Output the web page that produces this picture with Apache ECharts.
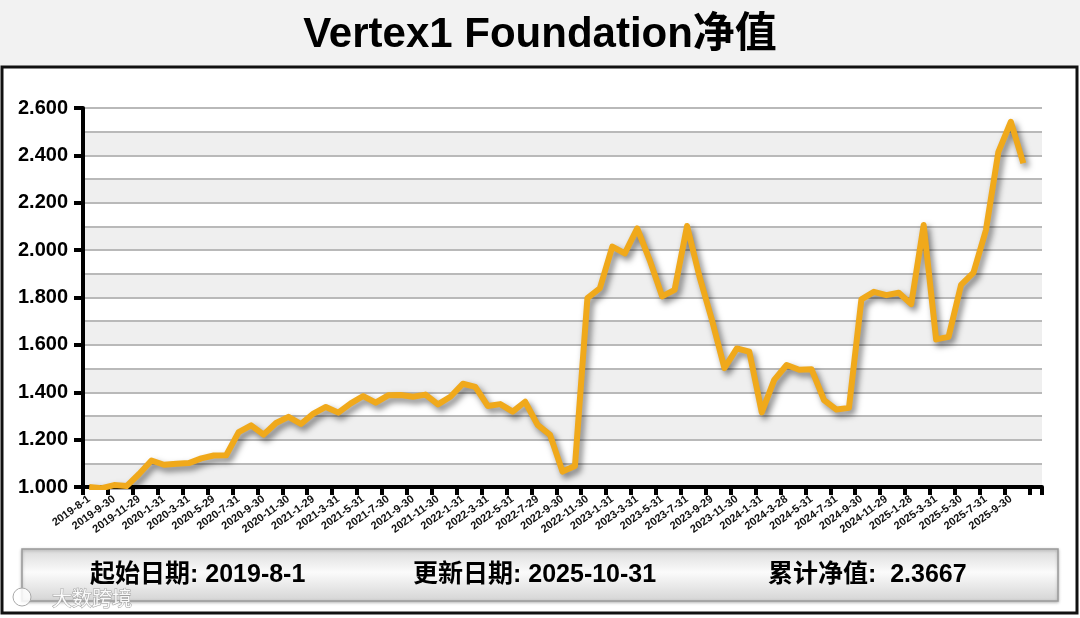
<!DOCTYPE html>
<html>
<head>
<meta charset="utf-8">
<script src="https://cdn.jsdelivr.net/npm/echarts@6/dist/echarts.min.js"></script>
<style>
html,body{margin:0;padding:0;background:#fff;}
#chart{width:1080px;height:618px;}
</style>
</head>
<body>
<div id="chart"></div>
<script>
var titleText = 'Vertex1 Foundation净值';
var dates = [
'2019-8-1','2019-8-30','2019-9-30','2019-10-31','2019-11-29','2019-12-31',
'2020-1-31','2020-2-28','2020-3-31','2020-4-30','2020-5-29','2020-6-30','2020-7-31','2020-8-31','2020-9-30','2020-10-30','2020-11-30','2020-12-31',
'2021-1-29','2021-2-26','2021-3-31','2021-4-30','2021-5-31','2021-6-30','2021-7-30','2021-8-31','2021-9-30','2021-10-29','2021-11-30','2021-12-31',
'2022-1-31','2022-2-28','2022-3-31','2022-4-29','2022-5-31','2022-6-30','2022-7-29','2022-8-31','2022-9-30','2022-10-31','2022-11-30','2022-12-30',
'2023-1-31','2023-2-28','2023-3-31','2023-4-28','2023-5-31','2023-6-30','2023-7-31','2023-8-31','2023-9-29','2023-10-31','2023-11-30','2023-12-29',
'2024-1-31','2024-2-29','2024-3-28','2024-4-30','2024-5-31','2024-6-28','2024-7-31','2024-8-30','2024-9-30','2024-10-31','2024-11-29','2024-12-31',
'2025-1-28','2025-2-28','2025-3-31','2025-4-30','2025-5-30','2025-6-30','2025-7-31','2025-8-29','2025-9-30','2025-10-31'
];
var navValues = [
1.000,0.995,1.008,1.004,1.055,1.112,
1.094,1.098,1.101,1.121,1.133,1.134,1.232,1.260,1.221,1.270,1.296,1.266,
1.310,1.338,1.314,1.353,1.384,1.356,1.387,1.388,1.381,1.390,1.349,1.381,
1.436,1.423,1.342,1.350,1.318,1.360,1.262,1.220,1.065,1.089,1.797,1.839,
2.015,1.986,2.092,1.958,1.805,1.832,2.102,1.888,1.705,1.502,1.585,1.571,
1.315,1.452,1.515,1.495,1.497,1.367,1.327,1.334,1.792,1.824,1.810,1.820,
1.772,2.106,1.623,1.634,1.853,1.905,2.085,2.415,2.542,2.3667
];
var yTickLabels = ['1.000','1.200','1.400','1.600','1.800','2.000','2.200','2.400','2.600'];
var infoTexts = ['起始日期: 2019-8-1', '更新日期: 2025-10-31', '累计净值:  2.3667'];
var watermarkText = '大数跨境';

var FONT = "'Liberation Sans', Arial, 'Noto Sans CJK SC', sans-serif";
var yMin = 1.0, yMax = 2.6;
var xCats = dates.concat(['']);

var chart = echarts.init(document.getElementById('chart'), null, {renderer: 'canvas'});
var option = {
  backgroundColor: '#ffffff',
  animation: false,
  title: {
    text: titleText,
    left: 'center',
    top: 9,
    textStyle: {fontFamily: FONT, fontSize: 42, fontWeight: 'bold', color: '#000'}
  },
  grid: {left: 83, right: 38, top: 108, bottom: 131, containLabel: false},
  xAxis: {
    type: 'category',
    data: xCats,
    boundaryGap: true,
    axisLine: {show: true, lineStyle: {color: '#000', width: 4}},
    axisTick: {show: true, interval: 1, length: 8, lineStyle: {color: '#000', width: 4}},
    axisLabel: {interval: 1, rotate: 36, fontSize: 11, fontWeight: 'bold', color: '#111', fontFamily: FONT, margin: 11},
    splitLine: {show: false}
  },
  yAxis: [
    {
      type: 'value', min: yMin, max: yMax, interval: 0.1,
      axisLine: {show: false}, axisTick: {show: false}, axisLabel: {show: false},
      splitLine: {show: true, lineStyle: {color: '#b9b9b9', width: 2}},
      splitArea: {show: true, areaStyle: {color: ['#efefef', '#ffffff']}}
    },
    {
      type: 'value', min: yMin, max: yMax, interval: 0.2, position: 'left',
      axisLine: {show: true, lineStyle: {color: '#000', width: 4}},
      axisTick: {show: true, length: 9, lineStyle: {color: '#000', width: 4}},
      axisLabel: {
        fontSize: 20, fontWeight: 'bold', color: '#000', fontFamily: FONT, margin: 15,
        formatter: function (v) { var i = Math.round((v - yMin) / 0.2); return yTickLabels[i] || ''; }
      },
      splitLine: {show: false}
    }
  ],
  series: [{
    type: 'line',
    data: navValues,
    yAxisIndex: 0,
    symbol: 'none',
    z: 5,
    lineStyle: {
      color: '#F0A91B', width: 6, join: 'round',
      shadowColor: 'rgba(0,0,0,0.5)', shadowBlur: 6, shadowOffsetX: 3, shadowOffsetY: 4
    }
  }],
  graphic: [
    {type: 'rect', z: -10, shape: {x: 0, y: 0, width: 1080, height: 66}, style: {fill: '#f2f2f2'}},
    {type: 'rect', z: 10, shape: {x: 2, y: 67, width: 1075, height: 546}, style: {fill: null, stroke: '#111', lineWidth: 3}},
    {type: 'rect', z: 10, shape: {x: 22, y: 549, width: 1036, height: 52},
      style: {
        fill: new echarts.graphic.LinearGradient(0, 0, 0, 1, [
          {offset: 0, color: '#d9d9d9'}, {offset: 0.45, color: '#fbfbfb'}, {offset: 1, color: '#d4d4d4'}
        ]),
        stroke: '#9a9a9a', lineWidth: 1.5,
        shadowColor: 'rgba(0,0,0,0.25)', shadowBlur: 3, shadowOffsetY: 1
      }
    },
    {type: 'text', z: 11, x: 90, y: 575, style: {text: infoTexts[0], fill: '#000', font: 'bold 25px ' + FONT, textVerticalAlign: 'middle', verticalAlign: 'middle'}},
    {type: 'text', z: 11, x: 413, y: 575, style: {text: infoTexts[1], fill: '#000', font: 'bold 25px ' + FONT, textVerticalAlign: 'middle', verticalAlign: 'middle'}},
    {type: 'text', z: 11, x: 768, y: 575, style: {text: infoTexts[2], fill: '#000', font: 'bold 25px ' + FONT, textVerticalAlign: 'middle', verticalAlign: 'middle'}},
    {type: 'circle', z: 12, shape: {cx: 22, cy: 597, r: 9}, style: {fill: 'rgba(255,255,255,0.85)', stroke: '#aaa', lineWidth: 1}},
    {type: 'text', z: 12, x: 52, y: 598, style: {text: watermarkText, fill: 'rgba(255,255,255,0.92)', stroke: '#a0a0a0', lineWidth: 1, font: '20px "Noto Sans CJK SC", sans-serif', verticalAlign: 'middle'}}
  ]
};
chart.setOption(option);
</script>
</body>
</html>
